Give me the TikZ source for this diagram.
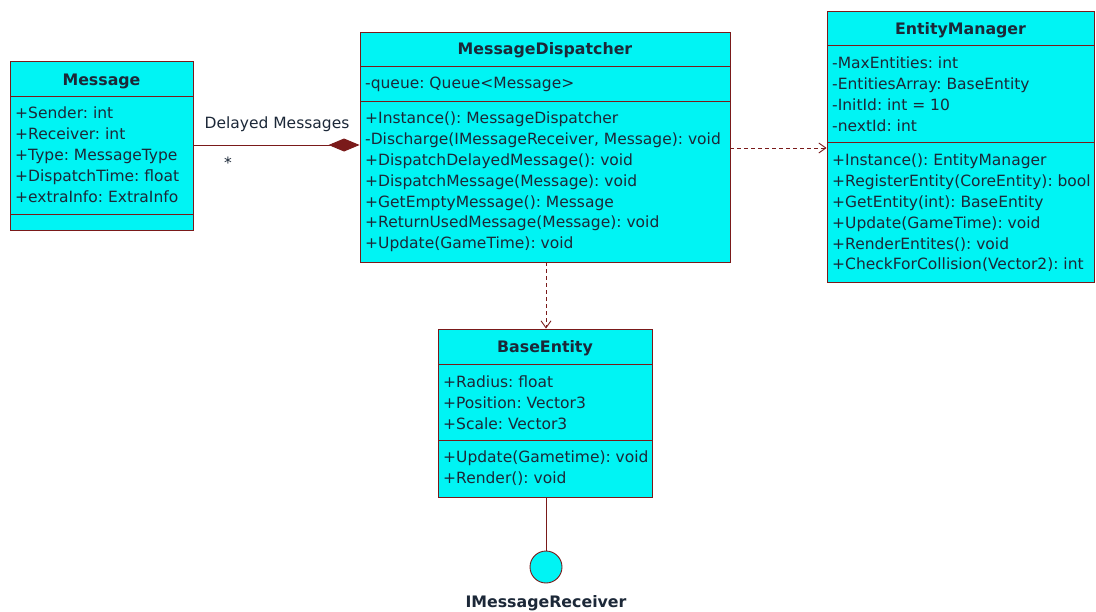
\documentclass[tikz,border=0pt]{standalone}
\usepackage{fontspec}
\setmainfont{DejaVu Sans}
\usetikzlibrary{arrows.meta}
\definecolor{umlfill}{HTML}{00F4F4}
\definecolor{umlline}{HTML}{7A1A1A}
\definecolor{umltext}{HTML}{1C2838}
\tikzset{
  classbox/.style={draw=umlline, fill=umlfill, line width=0.9pt, inner sep=0pt},
  sepline/.style={draw=umlline, line width=0.9pt},
  title/.style={font=\fontsize{15.8}{17}\selectfont\bfseries, text=umltext, inner sep=0pt},
  members/.style={font=\fontsize{15.5}{20.9}\selectfont\frenchspacing, text=umltext, align=left, anchor=north west, inner sep=0pt},
  assoc/.style={draw=umlline, line width=0.9pt},
  depend/.style={draw=umlline, line width=0.9pt, dash pattern=on 4pt off 3pt,
    -{Straight Barb[length=7pt,width=10pt,line width=0.9pt]}},
  lbl/.style={font=\fontsize{15.5}{17}\selectfont, text=umltext, inner sep=0pt}
}
\begin{document}
\begin{tikzpicture}[x=1pt,y=-1pt]
\useasboundingbox[fill=white] (0,0) rectangle (1096,611);

% Message
\node[classbox, minimum width=183pt, minimum height=169pt] (msg) at (101.5,145.5) {};
\draw[sepline] (10,96) -- (193,96);
\draw[sepline] (10,214) -- (193,214);
\node[title] (msgT) at (101.5,81) {Message};
\node[members] (msgA) at (15,107) {+Sender: int\\+Receiver: int\\+Type: MessageType\\+DispatchTime: float\\+extraInfo: ExtraInfo};

% MessageDispatcher
\node[classbox, minimum width=370pt, minimum height=230pt] (md) at (545,147) {};
\draw[sepline] (360,66) -- (730,66);
\draw[sepline] (360,101) -- (730,101);
\node[title] (mdT) at (545,50) {MessageDispatcher};
\node[members] (mdA) at (365,77) {-queue: Queue<Message>};
\node[members] (mdM) at (365,111.5) {+Instance(): MessageDispatcher\\-Discharge(IMessageReceiver, Message): void\\+DispatchDelayedMessage(): void\\+DispatchMessage(Message): void\\+GetEmptyMessage(): Message\\+ReturnUsedMessage(Message): void\\+Update(GameTime): void};

% EntityManager
\node[classbox, minimum width=267pt, minimum height=271pt] (em) at (960.5,146.5) {};
\draw[sepline] (827,45) -- (1094,45);
\draw[sepline] (827,142) -- (1094,142);
\node[title] (emT) at (960.5,30) {EntityManager};
\node[members] (emA) at (832,57) {-MaxEntities: int\\-EntitiesArray: BaseEntity\\-InitId: int = 10\\-nextId: int};
\node[members] (emM) at (832,153.5) {+Instance(): EntityManager\\+RegisterEntity(CoreEntity): bool\\+GetEntity(int): BaseEntity\\+Update(GameTime): void\\+RenderEntites(): void\\+CheckForCollision(Vector2): int};

% BaseEntity
\node[classbox, minimum width=214pt, minimum height=168pt] (be) at (545,413) {};
\draw[sepline] (438,364) -- (652,364);
\draw[sepline] (438,440) -- (652,440);
\node[title] (beT) at (545,348) {BaseEntity};
\node[members] (beA) at (443,376) {+Radius: float\\+Position: Vector3\\+Scale: Vector3};
\node[members] (beM) at (443,451) {+Update(Gametime): void\\+Render(): void};

% Interface lollipop
\node[classbox, circle, minimum size=32pt] (imr) at (546,567) {};
\node[title] (imrT) at (546,603) {IMessageReceiver};
\draw[assoc] (be.south -| imr) -- (imr.north);

% Composition: Message -- MessageDispatcher
\draw[assoc, -{Diamond[length=31pt,width=13pt,fill=umlline]}] (msg.east |- 0,145) -- (md.west |- 0,145);
\node[lbl] (dm) at (277,124) {Delayed Messages};
\node[lbl] (mult) at (228,163) {*};

% Dependencies
\draw[depend] (md.east |- 0,148) -- (em.west |- 0,148);
\draw[depend] (md.south -| imr) -- (be.north -| imr);
\end{tikzpicture}
\end{document}
